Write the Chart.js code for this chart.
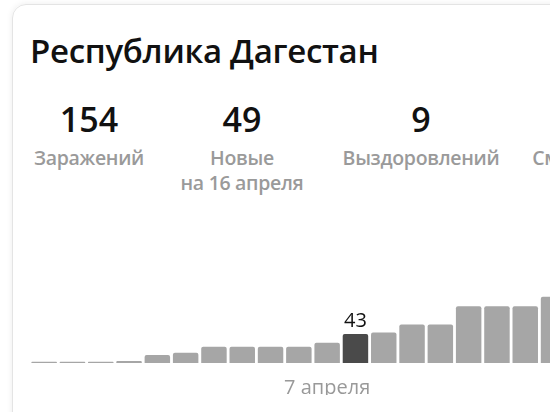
<!DOCTYPE html>
<html><head><meta charset="utf-8">
<script src="https://cdn.jsdelivr.net/npm/chart.js@4"></script>
<style>
body{margin:0;width:550px;height:412px;overflow:hidden;background:#fff;font-family:"Open Sans",sans-serif;position:relative}
.card{position:absolute;left:12px;top:4px;width:600px;height:440px;border:1px solid #e4e4e4;border-radius:14px;box-shadow:0 0 6px rgba(0,0,0,.08)}
h1{position:absolute;left:30px;top:28px;margin:0;font-size:33px;font-weight:600;color:#111;letter-spacing:-0.3px}
.st{position:absolute;top:97px;text-align:center;transform:translateX(-50%)}
.st b{display:block;font-size:34px;font-weight:600;color:#111;line-height:44px}
.st span{display:block;font-size:19.5px;font-weight:600;color:#9a9a9a;line-height:25px;margin-top:4px;white-space:nowrap;letter-spacing:-0.3px}
#wrap{position:absolute;left:30px;top:290px;width:566px;height:105px}
</style></head><body>
<div class="card"></div>
<h1>Республика Дагестан</h1>
<div class="st" style="left:89px"><b>154</b><span>Заражений</span></div>
<div class="st" style="left:242px"><b>49</b><span>Новые<br>на 16 апреля</span></div>
<div class="st" style="left:421px"><b>9</b><span>Выздоровлений</span></div>
<div class="st" style="left:574px"><b>&nbsp;</b><span>Смертей</span></div>
<div id="wrap"><canvas id="c"></canvas></div>
<script>
const labels = ['28 марта','29 марта','30 марта','31 марта','1 апреля','2 апреля','3 апреля','4 апреля','5 апреля','6 апреля','7 апреля','8 апреля','9 апреля','10 апреля','11 апреля','12 апреля','13 апреля','14 апреля','15 апреля','16 апреля'];
const values = [2,2,2,3,12,15,24,24,24,24,30,43,45,57,57,84,84,84,98,105];
const highlight = 11;
const tickShown = 10;

const valueLabel = {
  id: 'valueLabel',
  afterDatasetsDraw(chart) {
    const bar = chart.getDatasetMeta(0).data[highlight];
    const ctx = chart.ctx;
    ctx.save();
    ctx.font = '500 20px "Open Sans"';
    ctx.fillStyle = '#111';
    ctx.textAlign = 'center';
    ctx.textBaseline = 'bottom';
    ctx.fillText(String(values[highlight]), bar.x, bar.y - 3);
    ctx.restore();
  }
};

new Chart(document.getElementById('c'), {
  type: 'bar',
  data: {
    labels: labels,
    datasets: [{
      data: values,
      backgroundColor: values.map((v, i) => i === highlight ? '#4a4a4a' : '#a6a6a6'),
      borderRadius: { topLeft: 2, topRight: 2 },
      borderSkipped: 'bottom',
      categoryPercentage: 1,
      barPercentage: 0.9,
      minBarLength: 1
    }]
  },
  options: {
    responsive: true,
    maintainAspectRatio: false,
    animation: false,
    layout: { padding: 0 },
    plugins: { legend: { display: false }, tooltip: { enabled: false } },
    scales: {
      x: {
        grid: { display: false },
        border: { display: false },
        ticks: {
          autoSkip: false, maxRotation: 0, color: '#999', padding: 5,
          font: { family: 'Open Sans', size: 20 },
          callback: (v, i) => i === tickShown ? labels[i] : ''
        },
        afterFit: s => { s.height = 32; }
      },
      y: { display: false, min: 0, max: 108 }
    }
  },
  plugins: [valueLabel]
});
</script>
</body></html>
